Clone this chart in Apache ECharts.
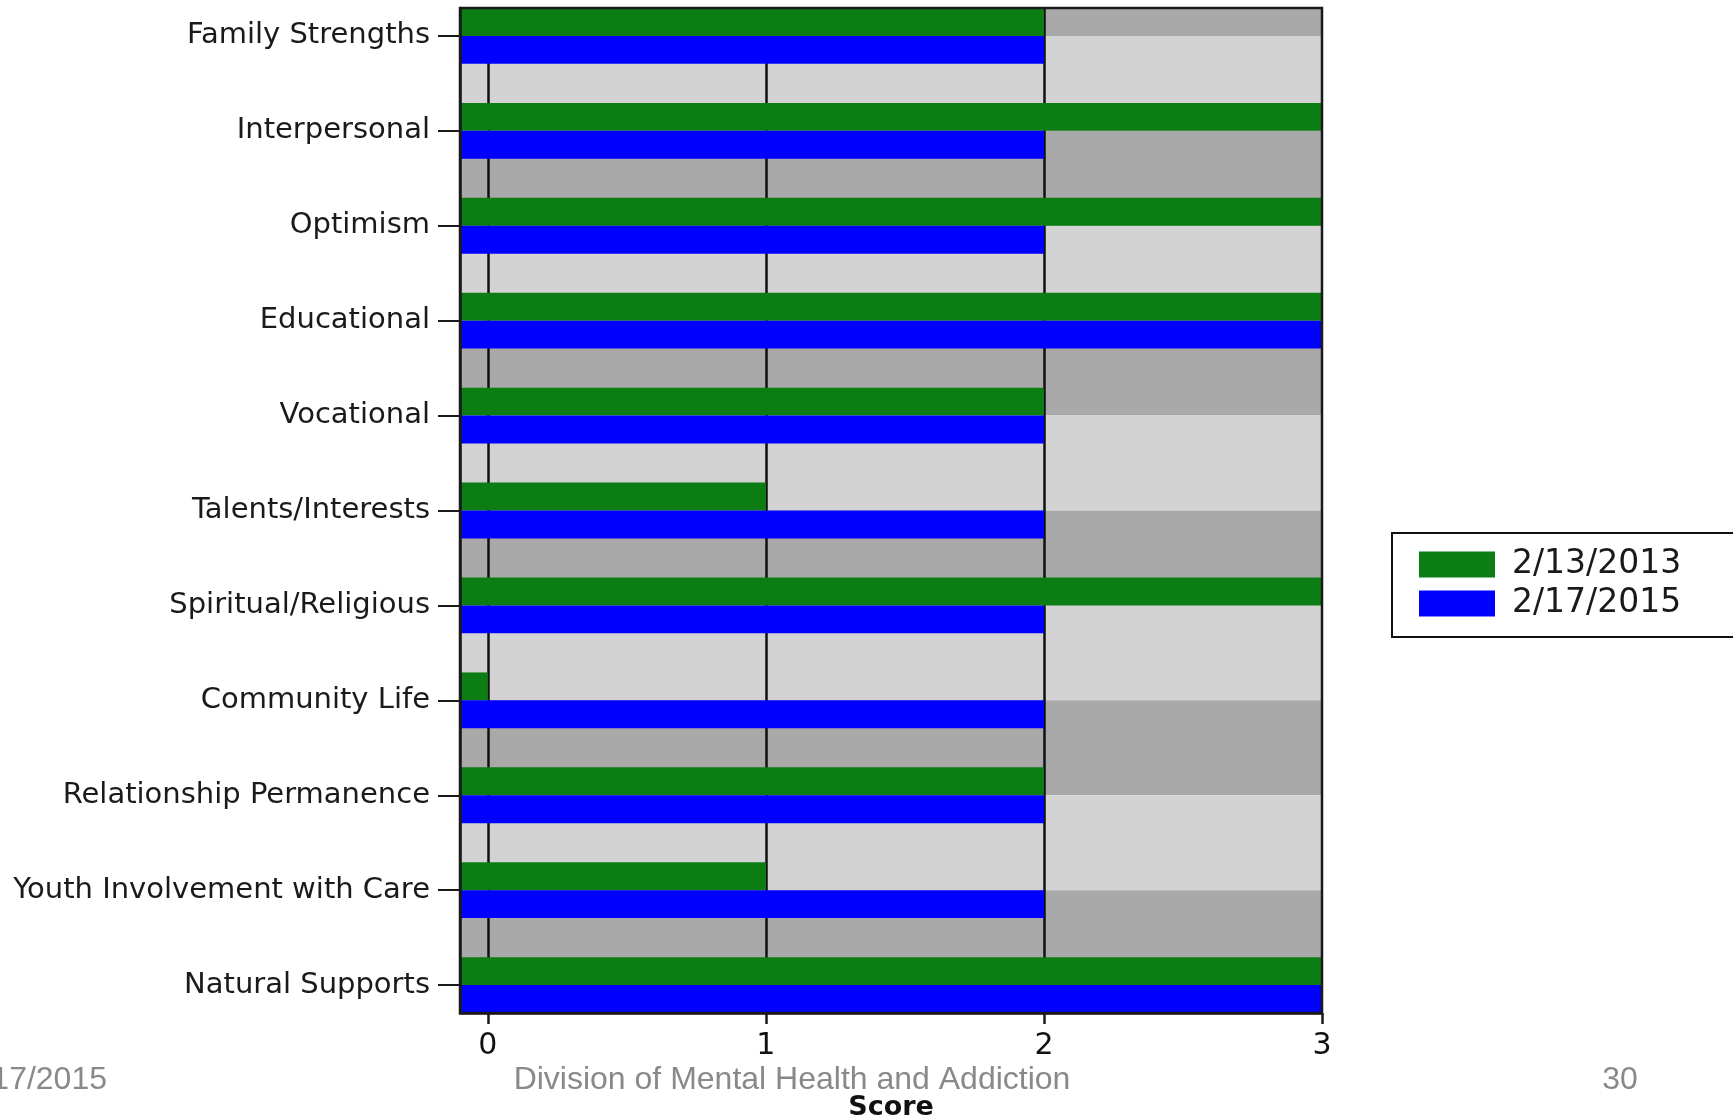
<!DOCTYPE html>
<html>
<head>
<meta charset="utf-8">
<title>Strengths Scores</title>
<script src="https://cdn.jsdelivr.net/npm/echarts@6/dist/echarts.min.js"></script>
<style>
  html, body { margin: 0; padding: 0; background: #ffffff; }
  #chart { width: 1733px; height: 1120px; }
</style>
</head>
<body>
<div id="chart"></div>
<script>
// Strength domains, listed top to bottom
const CATEGORIES = [
  'Family Strengths',
  'Interpersonal',
  'Optimism',
  'Educational',
  'Vocational',
  'Talents/Interests',
  'Spiritual/Religious',
  'Community Life',
  'Relationship Permanence',
  'Youth Involvement with Care',
  'Natural Supports'
];

// Scores per assessment date
const SERIES_NAMES = ['2/13/2013', '2/17/2015'];
const SCORES_2013 = [2, 3, 3, 3, 2, 1, 3, 0, 2, 1, 3];
const SCORES_2015 = [2, 2, 2, 3, 2, 2, 2, 2, 2, 2, 3];

// Score axis
const X_TICKS = [0, 1, 2, 3];
const GRID_LINES = [0, 1, 2];
const X_MIN = -0.1;
const X_MAX = 3;

// Footer line
const FOOTER_DATE = '2/17/2015';
const FOOTER_TITLE = 'Division of Mental Health and Addiction';
const FOOTER_PAGE = '30';

const COLORS = ['#0b7d13', '#0000ff'];
const BAND_LIGHT = '#d3d3d3';
const BAND_DARK = '#a9a9a9';
const AXIS_COLOR = '#1a1a1a';
const LABEL_FONT = 'DejaVu Sans';

// each bar is this thick in category units; the plot ends flush with the outer bars
const BAR_FRACTION = 0.294;
const Y_MIN = -BAR_FRACTION;
const Y_MAX = CATEGORIES.length - 1 + BAR_FRACTION;
const CAT_INDEX = CATEGORIES.map((_, i) => i);

// alternating background bands running from one category centre to the next
const bandAreas = [];
for (let i = -1; i < CATEGORIES.length; i++) {
  const lo = Math.max(i, Y_MIN);
  const hi = Math.min(i + 1, Y_MAX);
  bandAreas.push([
    { xAxis: X_MIN, yAxis: lo, itemStyle: { color: (i % 2 === 0) ? BAND_LIGHT : BAND_DARK } },
    { xAxis: X_MAX, yAxis: hi }
  ]);
}

// horizontal bar drawn from the left edge of the score axis; side -1 sits above the centre, +1 below
function barRenderer(side) {
  return function (params, api) {
    const idx = api.value(1);
    const start = api.coord([X_MIN, idx]);
    const end = api.coord([api.value(0), idx]);
    const h = Math.abs(api.size([0, 1])[1]) * BAR_FRACTION;
    return {
      type: 'rect',
      shape: { x: start[0], y: side < 0 ? start[1] - h : start[1], width: end[0] - start[0], height: h },
      style: api.style()
    };
  };
}

const chart = echarts.init(document.getElementById('chart'), null, { renderer: 'canvas' });

chart.setOption({
  backgroundColor: '#ffffff',
  animation: false,
  grid: {
    left: 460, right: 411, top: 8, bottom: 107,
    containLabel: false,
    outerBoundsMode: 'none',
    show: true,
    z: 10,
    backgroundColor: 'rgba(0,0,0,0)',
    borderColor: AXIS_COLOR,
    borderWidth: 2.5
  },
  legend: {
    data: SERIES_NAMES,
    orient: 'vertical',
    left: 1392,
    top: 533,
    icon: 'rect',
    itemWidth: 76,
    itemHeight: 26,
    itemGap: 6,
    padding: [15, 60, 17, 27],
    borderColor: '#111',
    borderWidth: 2,
    backgroundColor: '#ffffff',
    selectedMode: false,
    textStyle: {
      fontFamily: LABEL_FONT,
      fontSize: 33,
      lineHeight: 32,
      color: '#1a1a1a',
      padding: [0, 0, 0, 12]
    }
  },
  xAxis: {
    type: 'value',
    min: X_MIN,
    max: X_MAX,
    z: 11,
    name: 'Score',
    nameLocation: 'middle',
    nameGap: 81,
    nameTextStyle: { fontFamily: LABEL_FONT, fontSize: 27, fontWeight: 'bold', color: '#111' },
    axisLine: { show: true, onZero: false, lineStyle: { color: AXIS_COLOR, width: 2.5 } },
    axisTick: {
      show: true,
      customValues: X_TICKS,
      length: 11,
      lineStyle: { color: AXIS_COLOR, width: 2.5 }
    },
    axisLabel: {
      customValues: X_TICKS,
      margin: 18,
      fontFamily: LABEL_FONT,
      fontSize: 30,
      color: '#111'
    },
    splitLine: { show: false }
  },
  yAxis: {
    type: 'value',
    inverse: true,
    min: Y_MIN,
    max: Y_MAX,
    z: 11,
    axisLine: { show: true, onZero: false, lineStyle: { color: AXIS_COLOR, width: 2.5 } },
    axisTick: {
      show: true,
      customValues: CAT_INDEX,
      length: 22,
      lineStyle: { color: AXIS_COLOR, width: 2 }
    },
    axisLabel: {
      customValues: CAT_INDEX,
      margin: 30,
      fontFamily: LABEL_FONT,
      fontSize: 29,
      color: '#1a1a1a',
      formatter: (v) => CATEGORIES[Math.round(v)]
    },
    splitLine: { show: false }
  },
  series: [
    {
      // background bands and vertical reference lines
      type: 'line',
      data: [],
      silent: true,
      z: 1,
      markArea: {
        silent: true,
        z: 0.5,
        label: { show: false },
        data: bandAreas
      },
      markLine: {
        silent: true,
        z: 1,
        symbol: ['none', 'none'],
        label: { show: false },
        lineStyle: { color: '#111', width: 2.5, type: 'solid' },
        emphasis: { disabled: true },
        data: GRID_LINES.map(v => ({ xAxis: v }))
      }
    },
    {
      name: SERIES_NAMES[0],
      type: 'custom',
      z: 2,
      itemStyle: { color: COLORS[0] },
      encode: { x: 0, y: 1 },
      renderItem: barRenderer(-1),
      data: SCORES_2013.map((v, i) => [v, i])
    },
    {
      name: SERIES_NAMES[1],
      type: 'custom',
      z: 2,
      itemStyle: { color: COLORS[1] },
      encode: { x: 0, y: 1 },
      renderItem: barRenderer(1),
      data: SCORES_2015.map((v, i) => [v, i])
    }
  ],
  graphic: [
    {
      type: 'text', x: 107, y: 1080, z: 20,
      style: { text: FOOTER_DATE, font: '32px "Liberation Sans"', fill: '#898989', align: 'right', verticalAlign: 'middle' }
    },
    {
      type: 'text', x: 792, y: 1080, z: 20,
      style: { text: FOOTER_TITLE, font: '32px "Liberation Sans"', fill: '#898989', align: 'center', verticalAlign: 'middle' }
    },
    {
      type: 'text', x: 1620, y: 1080, z: 20,
      style: { text: FOOTER_PAGE, font: '32px "Liberation Sans"', fill: '#898989', align: 'center', verticalAlign: 'middle' }
    }
  ]
});
</script>
</body>
</html>
